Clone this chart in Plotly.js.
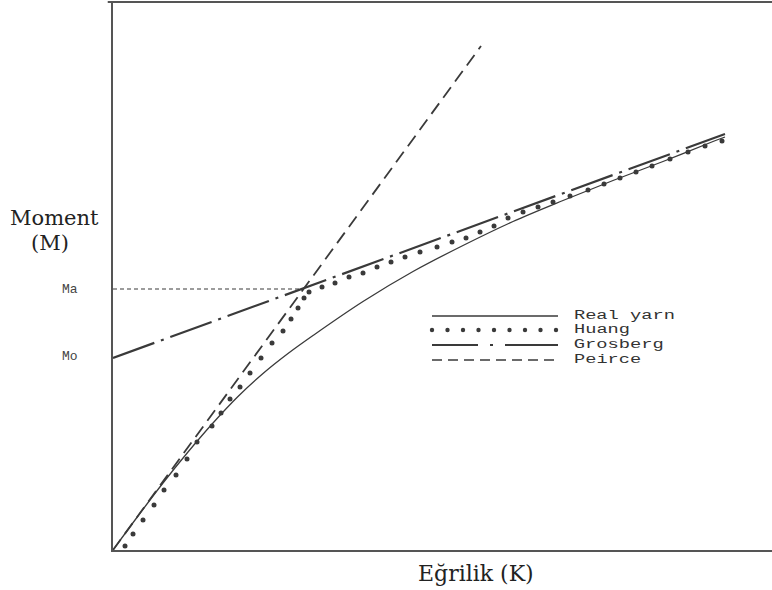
<!DOCTYPE html>
<html>
<head>
<meta charset="utf-8">
<script src="https://cdn.plot.ly/plotly-3.0.1.min.js"></script>
<style>html,body{margin:0;padding:0;background:#fff;}#chart{width:772px;height:590px;}</style>
</head>
<body>
<div id="chart"></div>
<script>
// Real yarn curve
const realK = [0, 0.5, 1, 1.5, 2, 2.5, 3, 3.5, 4, 5, 6, 7, 8, 9, 10, 11, 12, 12.24];
const realM = [0, 0.68, 1.34, 1.96, 2.54, 3.07, 3.53, 3.93, 4.29, 4.97, 5.57, 6.09, 6.57, 6.99, 7.39, 7.77, 8.17, 8.26];
// Huang (dotted)
const huangK = [0.24,0.40,0.60,0.82,1.02,1.26,1.48,1.68,1.98,2.16,2.34,2.54,2.74,2.96,3.18,3.40,3.56,3.70,3.82,3.92,4.18,4.44,4.72,5.00,5.28,5.56,5.84,6.14,6.48,6.78,7.06,7.34,7.62,7.90,8.20,8.50,8.80,9.14,9.50,9.82,10.14,10.46,10.78,11.14,11.50,11.84,12.18];
const huangM = [0.08,0.32,0.60,0.90,1.20,1.50,1.82,2.16,2.48,2.74,3.02,3.26,3.54,3.84,4.14,4.38,4.62,4.84,5.04,5.16,5.26,5.34,5.46,5.54,5.66,5.76,5.86,5.96,6.06,6.16,6.24,6.36,6.48,6.64,6.76,6.86,6.96,7.08,7.20,7.32,7.44,7.56,7.68,7.82,7.96,8.08,8.18];
// Grosberg (straight line from Mo)
const grosK = [0, 12.24];
const grosM = [3.84, 8.32];
// Peirce (straight line through origin)
const peirceK = [0, 7.36];
const peirceM = [0, 10.08];
// Ma level
const maK = [0, 3.8];
const maM = [5.22, 5.22];
const Mo = 3.84;

const legendNames = ["Real yarn", "Huang", "Grosberg", "Peirce"];

const ink = "#3a3a3a";
const traces = [
  {x: realK, y: realM, mode: "lines", line: {color: ink, width: 1.3, shape: "spline", smoothing: 1}, hoverinfo: "skip"},
  {x: huangK, y: huangM, mode: "markers", marker: {color: ink, size: 5}, hoverinfo: "skip"},
  {x: grosK, y: grosM, mode: "lines", line: {color: ink, width: 2.2, dash: "44px,7px,3px,7px"}, hoverinfo: "skip"},
  {x: peirceK, y: peirceM, mode: "lines", line: {color: ink, width: 1.8, dash: "13px,7px"}, hoverinfo: "skip"},
  {x: maK, y: maM, mode: "lines", line: {color: ink, width: 1.2, dash: "4px,3px"}, hoverinfo: "skip"}
];

// legend (drawn as layout decoration)
const lgX0 = 6.38, lgX1 = 8.9;
const lgY = [4.68, 4.40, 4.10, 3.80];
const shapes = [
  {type: "line", xref: "paper", yref: "paper", x0: -0.008, x1: 1, y0: 1, y1: 1, line: {color: "#555", width: 2}},
  {type: "line", xref: "x", yref: "y", x0: lgX0, x1: lgX1, y0: lgY[0], y1: lgY[0], line: {color: ink, width: 1.6}},
  {type: "line", xref: "x", yref: "y", x0: lgX0, x1: lgX1, y0: lgY[2], y1: lgY[2], line: {color: ink, width: 2, dash: "46px,12px,3px,12px,60px"}},
  {type: "line", xref: "x", yref: "y", x0: lgX0, x1: lgX1, y0: lgY[3], y1: lgY[3], line: {color: ink, width: 1.6, dash: "10px,6px"}}
];
const nDots = 9;
for (let i = 0; i < nDots; i++) {
  const cx = lgX0 + (lgX1 - lgX0 - 0.04) * i / (nDots - 1);
  shapes.push({type: "circle", xref: "x", yref: "y", xsizemode: "pixel", ysizemode: "pixel",
    xanchor: cx, yanchor: lgY[1], x0: -2.2, x1: 2.2, y0: -2.2, y1: 2.2,
    fillcolor: ink, line: {width: 0}});
}

const mono = "Liberation Mono, Courier New, monospace";
const serif = "DejaVu Serif, serif";
// stretched widths (px) of the typewriter legend text, as in the scanned original
const lgWidths = [101, 56, 90, 67];
const lgTextLeftPx = 574, plotLeftPx = 113, plotWidthPx = 659;
const annotations = [];
legendNames.forEach((n, i) => annotations.push({
  x: (lgTextLeftPx + lgWidths[i] / 2 - plotLeftPx) / plotWidthPx, y: lgY[i], xref: "paper", yref: "y",
  text: n, showarrow: false, borderpad: 0,
  xanchor: "center", yanchor: "middle", font: {family: mono, size: 12, color: "#333"}
}));
annotations.push({x: -0.0895, y: 0.606, xref: "paper", yref: "paper", text: "Moment", showarrow: false, xanchor: "center", yanchor: "middle", font: {family: serif, size: 21, color: "#222"}});
annotations.push({x: -0.0956, y: 0.560, xref: "paper", yref: "paper", text: "(M)", showarrow: false, xanchor: "center", yanchor: "middle", font: {family: serif, size: 21, color: "#222"}});
annotations.push({x: -0.0653, y: 0.476, xref: "paper", yref: "paper", text: "Ma", showarrow: false, xanchor: "center", yanchor: "middle", font: {family: mono, size: 13, color: "#444"}});
annotations.push({x: -0.0653, y: 0.354, xref: "paper", yref: "paper", text: "Mo", showarrow: false, xanchor: "center", yanchor: "middle", font: {family: mono, size: 13, color: "#444"}});
annotations.push({x: 0.551, y: -0.042, xref: "paper", yref: "paper", text: "Eğrilik (K)", showarrow: false, xanchor: "center", yanchor: "middle", font: {family: serif, size: 22, color: "#222"}});

const layout = {
  width: 772, height: 590,
  margin: {l: 113, r: 0, t: 2, b: 40},
  paper_bgcolor: "#fff", plot_bgcolor: "#fff",
  showlegend: false,
  xaxis: {range: [0, 13.18], showgrid: false, zeroline: false, showticklabels: false, ticks: "",
    showline: true, linecolor: "#555", linewidth: 2},
  yaxis: {range: [0, 10.96], showgrid: false, zeroline: false, showticklabels: false, ticks: "",
    showline: true, linecolor: "#555", linewidth: 2},
  shapes: shapes,
  annotations: annotations
};

Plotly.newPlot("chart", traces, layout, {staticPlot: true, displayModeBar: false}).then(function (gd) {
  gd.querySelectorAll(".annotation-text").forEach(function (t) {
    const i = legendNames.indexOf(t.textContent);
    if (i >= 0) { t.setAttribute("textLength", lgWidths[i]); t.setAttribute("lengthAdjust", "spacingAndGlyphs"); }
  });
});
</script>
</body>
</html>
